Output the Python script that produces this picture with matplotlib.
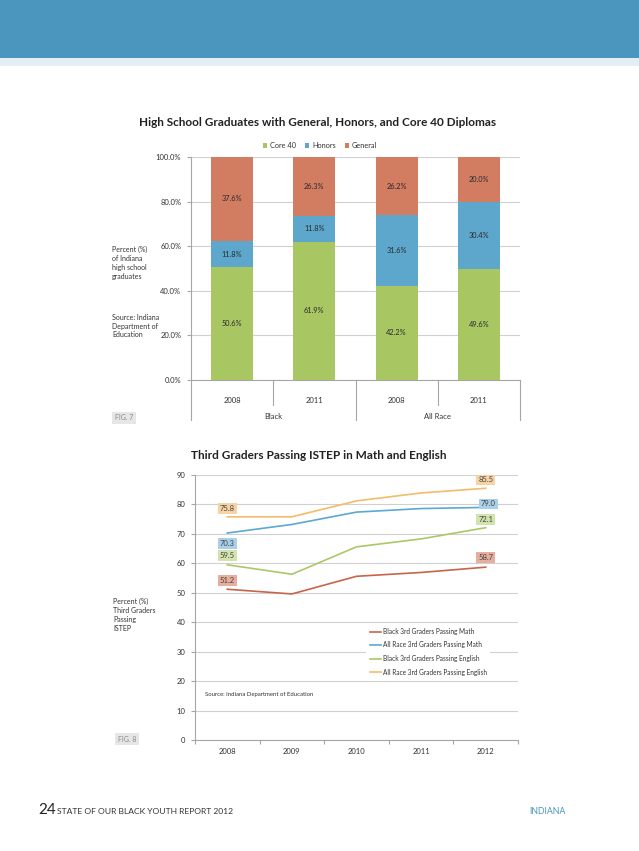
import matplotlib
matplotlib.use("Agg")
import matplotlib.pyplot as plt
from matplotlib.patches import Rectangle
import matplotlib.transforms as mtransforms

plt.rcParams['font.family'] = ['Lato', 'DejaVu Sans']

# ---------------- data ----------------
bar_years = ["2008", "2011", "2008", "2011"]
bar_groups = ["Black", "All Race"]
core40 = [50.6, 61.9, 42.2, 49.6]
honors = [11.8, 11.8, 31.6, 30.4]
general = [37.6, 26.3, 26.2, 20.0]
bar_series_names = ["Core 40", "Honors", "General"]

line_years = ["2008", "2009", "2010", "2011", "2012"]
black_math = [51.2, 49.6, 55.6, 56.9, 58.7]
all_math = [70.3, 73.2, 77.4, 78.6, 79.0]
black_eng = [59.5, 56.3, 65.6, 68.3, 72.1]
all_eng = [75.8, 75.8, 81.2, 83.9, 85.5]
line_names = ["Black 3rd Graders Passing Math", "All Race 3rd Graders Passing Math",
              "Black 3rd Graders Passing English", "All Race 3rd Graders Passing English"]

W, H = 639, 851
fig = plt.figure(figsize=(W / 100, H / 100), dpi=100)

def fx(px):
    return px / W

def fy(py):
    return 1 - py / H

# ---------------- header band ----------------
fig.patches.append(Rectangle((0, fy(58)), 1, 58 / H, transform=fig.transFigure,
                             facecolor="#4A96BF", edgecolor="none", zorder=0))
fig.patches.append(Rectangle((0, fy(66)), 1, 8 / H, transform=fig.transFigure,
                             facecolor="#E3EEF5", edgecolor="none", zorder=0))

txt = "#333333"
grid_c = "#D0D0D0"
axis_c = "#A6A6A6"

# ---------------- top chart ----------------
c_core = "#A8C762"
c_hon = "#5DA6CC"
c_gen = "#D27C62"

ax1 = fig.add_axes([fx(191), fy(380), fx(520) - fx(191), (380 - 157) / H])
x = list(range(len(bar_years)))
bw = 0.51
ax1.bar(x, core40, width=bw, color=c_core, label=bar_series_names[0], zorder=3)
ax1.bar(x, honors, width=bw, bottom=core40, color=c_hon, label=bar_series_names[1], zorder=3)
bot2 = [a + b for a, b in zip(core40, honors)]
ax1.bar(x, general, width=bw, bottom=bot2, color=c_gen, label=bar_series_names[2], zorder=3)
for i in x:
    ax1.text(i, core40[i] / 2, f"{core40[i]:.1f}%", ha="center", va="center", fontsize=5.3, color="#2A2A2A", zorder=4)
    ax1.text(i, core40[i] + honors[i] / 2, f"{honors[i]:.1f}%", ha="center", va="center", fontsize=5.3, color="#2A2A2A", zorder=4)
    ax1.text(i, bot2[i] + general[i] / 2, f"{general[i]:.1f}%", ha="center", va="center", fontsize=5.3, color="#2A2A2A", zorder=4)
ax1.set_xlim(-0.5, 3.5)
ax1.set_ylim(0, 100)
ax1.set_yticks([0, 20, 40, 60, 80, 100])
ax1.set_yticklabels([f"{v:.1f}%" for v in [0, 20, 40, 60, 80, 100]])
ax1.yaxis.grid(True, color=grid_c, linewidth=0.8, zorder=0)
ax1.tick_params(axis="y", labelsize=5.5, labelcolor=txt, color=axis_c, length=3, width=0.8, pad=4)
ax1.tick_params(axis="x", bottom=False, labelbottom=False)
for s in ["top", "right"]:
    ax1.spines[s].set_visible(False)
ax1.spines["left"].set_color(axis_c)
ax1.spines["bottom"].set_color(axis_c)
ax1.spines["left"].set_linewidth(0.8)
ax1.spines["bottom"].set_linewidth(0.8)

trans1 = mtransforms.blended_transform_factory(ax1.transData, ax1.transAxes)
# category labels & separators
for i, yr in enumerate(bar_years):
    ax1.text(i, -0.09, yr, transform=trans1, ha="center", va="center", fontsize=5.5, color=txt)
for j, g in enumerate(bar_groups):
    ax1.text(2 * j + 0.5, -0.165, g, transform=trans1, ha="center", va="center", fontsize=5.5, color=txt)
for bx in [-0.5, 0.5, 1.5, 2.5, 3.5]:
    long_sep = bx in (-0.5, 1.5, 3.5)
    ax1.plot([bx, bx], [0, -0.18 if long_sep else -0.11], transform=trans1, color=axis_c,
             linewidth=0.8, clip_on=False)

leg1 = ax1.legend(loc="lower center", bbox_to_anchor=(0.392, 1.035), ncol=3, frameon=False,
                  fontsize=5.3, handlelength=0.6, handleheight=0.6, handletextpad=0.4,
                  columnspacing=1.2, borderaxespad=0.0, borderpad=0.0)
for t in leg1.get_texts():
    t.set_color(txt)

fig.text(fx(318), fy(123), "High School Graduates with General, Honors, and Core 40 Diplomas",
         ha="center", va="center", fontsize=8.5, fontweight="bold", color="#222222")
fig.text(fx(112), fy(263), "Percent (%)\nof Indiana\nhigh school\ngraduates",
         ha="left", va="center", fontsize=5, color=txt, linespacing=1.3)
fig.text(fx(112), fy(326), "Source: Indiana\nDepartment of\nEducation",
         ha="left", va="center", fontsize=5, color=txt, linespacing=1.3)
fig.text(fx(124), fy(418), "FIG. 7", ha="center", va="center", fontsize=5, color="#8A8A8A",
         bbox=dict(boxstyle="square,pad=0.35", facecolor="#E6E6E6", edgecolor="none"))

# ---------------- bottom chart ----------------
ax2 = fig.add_axes([fx(195), fy(740), fx(518) - fx(195), (740 - 475) / H])
lx = list(range(len(line_years)))
line_cols = ["#C8644A", "#5BA8D2", "#A9C868", "#F2BC6A"]
bg_cols = ["#E7AE9E", "#A9D0E8", "#D3E3AE", "#F6D3A4"]
series = [black_math, all_math, black_eng, all_eng]
for s, c, n in zip(series, line_cols, line_names):
    ax2.plot(lx, s, color=c, linewidth=1.2, label=n, zorder=3)

ax2.set_xlim(-0.5, 4.5)
ax2.set_ylim(0, 90)
ax2.set_yticks(range(0, 91, 10))
ax2.yaxis.grid(True, color=grid_c, linewidth=0.8, zorder=0)
ax2.set_xticks(lx)
ax2.set_xticklabels(line_years)
ax2.set_xticks([v - 0.5 for v in range(6)], minor=True)
ax2.tick_params(axis="x", which="major", length=0, labelsize=5.5, labelcolor=txt, pad=6)
ax2.tick_params(axis="x", which="minor", length=3, color=axis_c, width=0.8)
ax2.tick_params(axis="y", labelsize=5.5, labelcolor=txt, color=axis_c, length=3, width=0.8, pad=4)
for s in ["top", "right"]:
    ax2.spines[s].set_visible(False)
ax2.spines["left"].set_color(axis_c)
ax2.spines["bottom"].set_color(axis_c)
ax2.spines["left"].set_linewidth(0.8)
ax2.spines["bottom"].set_linewidth(0.8)

# value labels (offsets in points)
label_specs = [
    (0, 0, (0, 6.5)), (0, 4, (0, 7)),
    (1, 0, (0, -7.5)), (1, 4, (2, 2.5)),
    (2, 0, (0, 6.5)), (2, 4, (0, 6)),
    (3, 0, (0, 6)), (3, 4, (0, 6)),
]
for si, pi, off in label_specs:
    val = series[si][pi]
    ax2.annotate(f"{val:.1f}", (lx[pi], val), xytext=off, textcoords="offset points",
                 ha="center", va="center", fontsize=5.5, color="#444444", zorder=5,
                 bbox=dict(boxstyle="square,pad=0.25", facecolor=bg_cols[si], edgecolor="none"))

leg2 = ax2.legend(loc="center left", bbox_to_anchor=(0.52, 0.333), frameon=True, fontsize=4.7,
                  handlelength=1.6, handletextpad=0.3, labelspacing=1.0, borderpad=0.6)
leg2.get_frame().set_facecolor("white")
leg2.get_frame().set_edgecolor("none")
leg2.get_frame().set_alpha(1)
for t in leg2.get_texts():
    t.set_color(txt)

ax2.text(0.03, 0.17, "Source: Indiana Department of Education", transform=ax2.transAxes,
         ha="left", va="center", fontsize=4.3, color=txt)

fig.text(fx(319), fy(455), "Third Graders Passing ISTEP in Math and English",
         ha="center", va="center", fontsize=8.5, fontweight="bold", color="#222222")
fig.text(fx(113), fy(615), "Percent (%)\nThird Graders\nPassing\nISTEP",
         ha="left", va="center", fontsize=5, color=txt, linespacing=1.3)
fig.text(fx(127), fy(739), "FIG. 8", ha="center", va="center", fontsize=5, color="#8A8A8A",
         bbox=dict(boxstyle="square,pad=0.35", facecolor="#E6E6E6", edgecolor="none"))

# ---------------- footer ----------------
fig.text(fx(38), fy(810), "24", ha="left", va="center", fontsize=11, color="#222222")
fig.text(fx(57), fy(811), "STATE OF OUR BLACK YOUTH REPORT 2012", ha="left", va="center",
         fontsize=6.1, color="#333333")
fig.text(fx(566), fy(811), "INDIANA", ha="right", va="center", fontsize=6.3, color="#4A96BF")

fig.savefig("out.png", dpi=100)
